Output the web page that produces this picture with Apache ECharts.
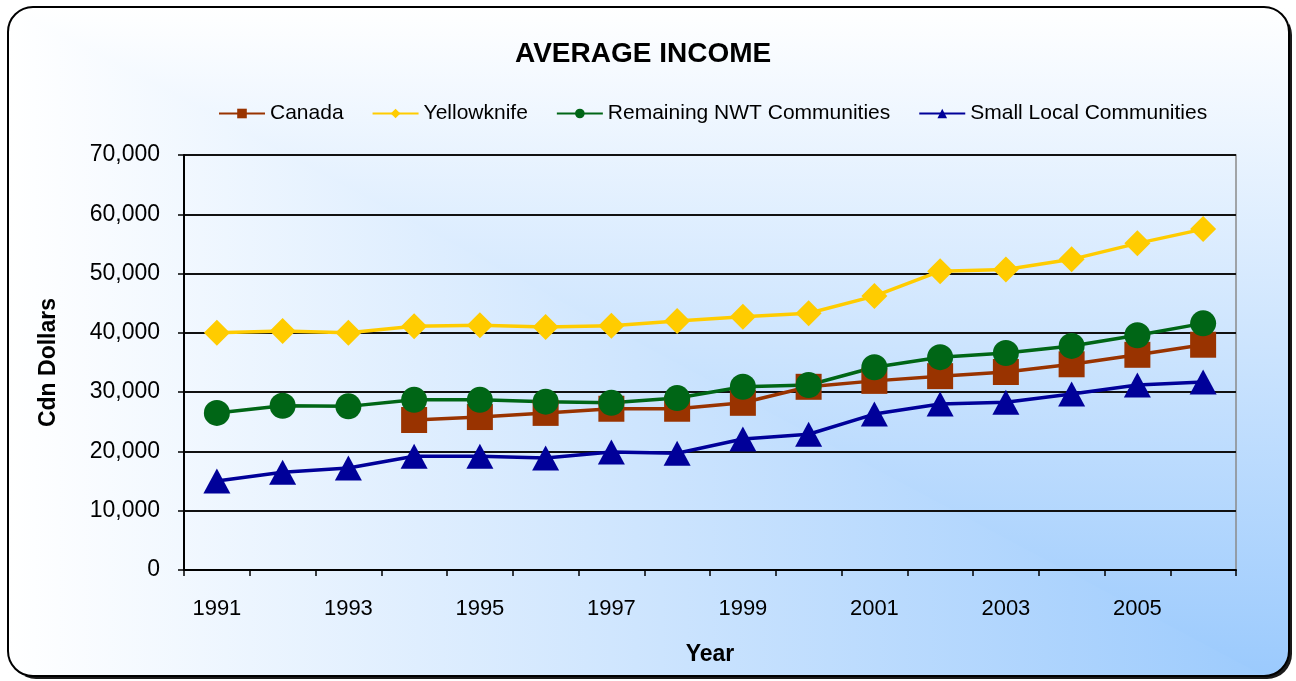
<!DOCTYPE html>
<html>
<head>
<meta charset="utf-8">
<title>Average Income</title>
<script src="https://cdn.jsdelivr.net/npm/echarts@6.0.0/dist/echarts.min.js"></script>
<style>
  html, body { margin: 0; padding: 0; background: #fff; }
  #app { width: 1296px; height: 681px; }
</style>
</head>
<body>
<div id="app"></div>
<script>
// data
var years = ['1991', '1992', '1993', '1994', '1995', '1996', '1997', '1998',
             '1999', '2000', '2001', '2002', '2003', '2004', '2005', '2006'];
var canada = [null, null, null, 25300, 25800, 26500, 27200, 27200,
              28200, 30900, 31900, 32700, 33400, 34700, 36300, 38000];
var yellowknife = [40000, 40300, 40000, 41100, 41300, 41000, 41200, 42000,
                   42700, 43300, 46200, 50400, 50700, 52400, 55100, 57500];
var remainingNwt = [26500, 27700, 27600, 28700, 28700, 28400, 28200, 29000,
                    30900, 31200, 34200, 35900, 36600, 37800, 39600, 41600];
var smallLocal = [15000, 16500, 17200, 19200, 19200, 18900, 19900, 19700,
                  22100, 22900, 26300, 28000, 28300, 29700, 31200, 31700];

var FONT = '"Liberation Sans", Arial, sans-serif';

// frame of the chart: rounded box, "from corner" gradient, dark shadow
var boxX = 8, boxY = 7, boxW = 1281, boxH = 669, boxR = 25;
var BLUE = '#9bcafd';

// the corner gradient is split along the diagonal: below it the colour
// only changes left->right, above it only top->bottom
function cornerArc(from, to) {
    var cx = boxX + boxW - boxR, cy = boxY + boxH - boxR;
    var pts = [];
    for (var i = 0; i <= 12; i++) {
        var a = (from + (to - from) * i / 12) * Math.PI / 180;
        pts.push([cx + boxR * Math.cos(a), cy + boxR * Math.sin(a)]);
    }
    return pts;
}
var lowerPts = [[boxX, boxY], [boxX, boxY + boxH]].concat(cornerArc(90, 0));
var upperPts = [[boxX, boxY], [boxX + boxW, boxY]].concat(cornerArc(0, 90));

function makeSeries(name, data, color, symbol, size) {
    return {
        name: name,
        type: 'line',
        data: data,
        symbol: symbol,
        symbolSize: size,
        connectNulls: false,
        lineStyle: { color: color, width: 3.5 },
        itemStyle: { color: color },
        emphasis: { disabled: true },
        animation: false
    };
}

var chart = echarts.init(document.getElementById('app'));
var option = {
    backgroundColor: '#ffffff',
    textStyle: { fontFamily: FONT },
    graphic: [
        {
            type: 'rect', z: -20, silent: true,
            shape: { x: boxX + 3, y: boxY + 3, width: boxW, height: boxH, r: boxR },
            style: { fill: '#1a1a1a' }
        },
        {
            type: 'rect', z: -19, silent: true,
            shape: { x: boxX, y: boxY, width: boxW, height: boxH, r: boxR },
            style: { fill: '#ffffff' }
        },
        {
            type: 'polygon', z: -18, silent: true,
            shape: { points: lowerPts },
            style: {
                fill: new echarts.graphic.LinearGradient(0, 0, 1, 0, [
                    { offset: 0, color: '#ffffff' },
                    { offset: 1, color: BLUE }
                ])
            }
        },
        {
            type: 'polygon', z: -18, silent: true,
            shape: { points: upperPts },
            style: {
                fill: new echarts.graphic.LinearGradient(0, 0, 0, 1, [
                    { offset: 0, color: '#ffffff' },
                    { offset: 1, color: BLUE }
                ])
            }
        },
        {
            type: 'rect', z: -17, silent: true,
            shape: { x: boxX, y: boxY, width: boxW, height: boxH, r: boxR },
            style: { fill: 'none', stroke: '#000', lineWidth: 2 }
        }
    ],
    title: {
        text: 'AVERAGE INCOME',
        left: 510,
        top: 35,
        textStyle: { fontFamily: FONT, fontSize: 28, fontWeight: 'bold', color: '#000' }
    },
    legend: {
        left: 213,
        top: 98,
        itemWidth: 46,
        itemHeight: 12,
        itemGap: 28,
        textStyle: { fontFamily: FONT, fontSize: 21, color: '#000' },
        data: ['Canada', 'Yellowknife', 'Remaining NWT Communities', 'Small Local Communities']
    },
    grid: {
        left: 184,
        right: 60,
        top: 155,
        bottom: 111,
        show: true,
        borderColor: '#8a8a8a',
        borderWidth: 1.5,
        backgroundColor: 'transparent'
    },
    xAxis: {
        type: 'category',
        data: years,
        boundaryGap: true,
        name: 'Year',
        nameLocation: 'middle',
        nameGap: 73,
        nameTextStyle: { fontFamily: FONT, fontSize: 23, fontWeight: 'bold', color: '#000' },
        axisLine: { lineStyle: { color: '#000', width: 2 } },
        axisTick: { show: true, interval: 0, length: 6, lineStyle: { color: '#000', width: 1.5 } },
        axisLabel: { interval: 1, margin: 28, fontFamily: FONT, fontSize: 22, color: '#000' }
    },
    yAxis: {
        type: 'value',
        min: 0,
        max: 70000,
        interval: 10000,
        name: 'Cdn Dollars',
        nameLocation: 'middle',
        nameGap: 124,
        nameTextStyle: { fontFamily: FONT, fontSize: 23, fontWeight: 'bold', color: '#000' },
        axisLine: { show: true, lineStyle: { color: '#000', width: 2 } },
        axisTick: { show: true, length: 6, lineStyle: { color: '#000', width: 1.5 } },
        axisLabel: {
            margin: 24, fontFamily: FONT, fontSize: 23, color: '#000',
            formatter: function (v) { return v.toLocaleString('en-US'); }
        },
        splitLine: { lineStyle: { color: '#111', width: 2 } }
    },
    series: [
        makeSeries('Canada', canada, '#993300', 'rect', 26),
        makeSeries('Yellowknife', yellowknife, '#ffcc00', 'diamond', 26),
        makeSeries('Remaining NWT Communities', remainingNwt, '#006616', 'circle', 26),
        makeSeries('Small Local Communities', smallLocal, '#000099', 'triangle', [27, 25])
    ]
};
chart.setOption(option);
</script>
</body>
</html>
